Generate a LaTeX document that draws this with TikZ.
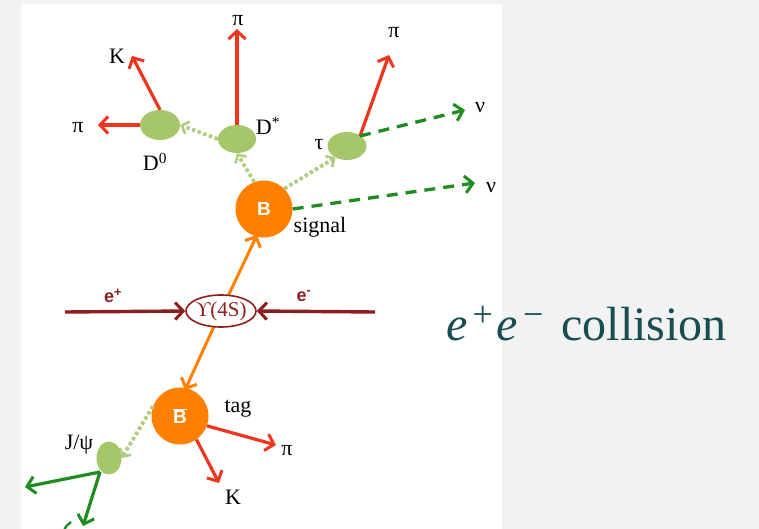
\documentclass[tikz,border=0pt]{standalone}
\usepackage{fontspec}
\setmainfont{Liberation Serif}
\newfontfamily\sansb{Liberation Sans}
\usetikzlibrary{arrows.meta,shapes.geometric}
\definecolor{bgray}{RGB}{242,242,242}
\definecolor{pred}{RGB}{240,52,30}
\definecolor{porange}{RGB}{255,128,0}
\definecolor{plgreen}{RGB}{166,198,106}
\definecolor{pdotg}{RGB}{176,204,128}
\definecolor{pdgreen}{RGB}{30,140,30}
\definecolor{pdred}{RGB}{140,30,30}
\definecolor{pteal}{RGB}{23,78,82}
\tikzset{
  barb/.style={-{Straight Barb[length=8pt,width=17pt,line width=3pt]}},
  redarr/.style={barb,draw=pred,line width=3.2pt},
  orarr/.style={barb,draw=porange,line width=3pt},
  nuarr/.style={barb,draw=pdgreen,line width=3.3pt,dash pattern=on 11pt off 8pt},
  dotarr/.style={-{Straight Barb[length=6pt,width=13pt,line width=2.6pt]},draw=pdotg,line width=3.8pt,dash pattern=on 3.5pt off 2.5pt},
  greenarr/.style={barb,draw=pdgreen,line width=3.2pt},
  beamarr/.style={barb,draw=pdred,line width=3.4pt},
  bnode/.style={circle,fill=porange,minimum size=57pt,inner sep=0pt,text=white,font=\sansb\bfseries\fontsize{19}{19}\selectfont},
  ell/.style={ellipse,fill=plgreen,inner sep=0pt},
  lbl/.style={inner sep=0pt,font=\fontsize{22}{22}\selectfont},
  elbl/.style={inner sep=0pt,text=pdred,font=\sansb\bfseries\fontsize{18}{18}\selectfont},
}
\begin{document}
\begin{tikzpicture}[x=1pt,y=-1pt]
\fill[bgray] (0,0) rectangle (759,529);
\fill[white] (21,4) rectangle (502,529);
\useasboundingbox (0,0) rectangle (759,529);

% particles
\node[ell,minimum width=40pt,minimum height=30pt] (D0) at (160,125) {};
\node[ell,minimum width=38pt,minimum height=28pt] (Dst) at (237,139) {};
\node[ell,minimum width=39pt,minimum height=28pt] (tau) at (347,146) {};
\node[ell,minimum width=25pt,minimum height=33pt] (Jpsi) at (109,458) {};

% coordinates for free ends
\coordinate (tPiTop) at (237,29);
\coordinate (tK) at (132,56);
\coordinate (tPiL) at (98,125);
\coordinate (tPiR) at (389,55);
\coordinate (tNu1) at (465,110);
\coordinate (tNu2) at (475,183);
\coordinate (tPiB) at (276,445);
\coordinate (tKB) at (219,483);
\coordinate (tL1) at (25,487);
\coordinate (tL2) at (83,526);
\coordinate (sJ) at (100,472);
\coordinate (sTau) at (360,136);
\coordinate (tBs) at (257,235);
\coordinate (tBt) at (185,390);
\coordinate (ePs) at (65,312);
\coordinate (eMs) at (375,312);

% orange lines (behind Upsilon)
\coordinate (Yc) at (221,311);
\draw[orarr] (Yc) -- (tBs);
\draw[orarr] (Yc) -- (tBt);

\node[draw=pdred,line width=1.6pt,fill=white,ellipse,minimum width=70pt,minimum height=32pt,inner sep=0pt] (Y) at (221,311) {};
\node[inner sep=0pt,text=pdred,font=\fontsize{21}{21}\selectfont] (Ytxt) at (Y.center) {ϒ(4S)};

\node[bnode] (B) at (264,209) {B};
\node[bnode] (Bb) at (180,416) {$\overline{\hbox{\sansb\bfseries\fontsize{19}{19}\selectfont B}}$};

% beams
\draw[beamarr] (ePs) -- (Y.west);
\draw[beamarr] (eMs) -- (Y.east);

% red arrows
\draw[redarr] (Dst.north) -- (tPiTop);
\draw[redarr] (D0.north) -- (tK);
\draw[redarr] (D0.west) -- (tPiL);
\draw[redarr] (sTau) -- (tPiR);
\draw[redarr] (Bb.-20) -- (tPiB);
\draw[redarr] (Bb.-55) -- (tKB);

% neutrinos
\draw[nuarr] (sTau) -- (tNu1);
\draw[nuarr] (B.east) -- (tNu2);

% dotted decays
\draw[dotarr] (B.110) -- (Dst.south);
\draw[dotarr] (Dst.west) -- (D0.east);
\draw[dotarr] (B.45) -- (tau.225);
\draw[dotarr] (Bb.160) -- (Jpsi.east);

% lepton arrows
\draw[greenarr] (sJ) -- (tL1);
\draw[greenarr] (sJ) -- (tL2);
\draw[pdgreen,line width=2.4pt] (64,531) .. controls (66,526) .. (71,522);

% labels
\node[lbl] (lPiTop) at (238,21) {π};
\node[lbl] (lK) at (117,56) {K};
\node[lbl] (lPiL) at (78,128) {π};
\node[lbl] (lD0) at (155,162) {D\textsuperscript{0}};
\node[lbl] (lDst) at (268,126) {D\textsuperscript{*}};
\node[lbl] (lTau) at (319,145) {τ};
\node[lbl] (lPiR) at (394,33) {π};
\node[lbl] (lNu1) at (480,108) {ν};
\node[lbl] (lNu2) at (491,188) {ν};
\node[lbl] (lSig) at (320,227) {signal};
\node[lbl] (lTag) at (238,409) {tag};
\node[lbl] (lPiB) at (287,451) {π};
\node[lbl] (lKB) at (233,497) {K};
\node[lbl] (lJ) at (79,445) {J/ψ};
\node[elbl] (lEp) at (113,296) {e\textsuperscript{+}};
\node[elbl] (lEm) at (304,296) {e\textsuperscript{-}};

% title
\node[anchor=base west,inner sep=0pt,text=pteal,font=\fontsize{48}{48}\selectfont] (coll) at (446,340)
  {\textit{e}\hspace{5pt}\raisebox{14pt}{\fontsize{36}{36}\selectfont +}\hspace{4pt}\textit{e}\hspace{5pt}\raisebox{14pt}{\fontsize{36}{36}\selectfont −}\hspace{18pt}collision};
\end{tikzpicture}
\end{document}
